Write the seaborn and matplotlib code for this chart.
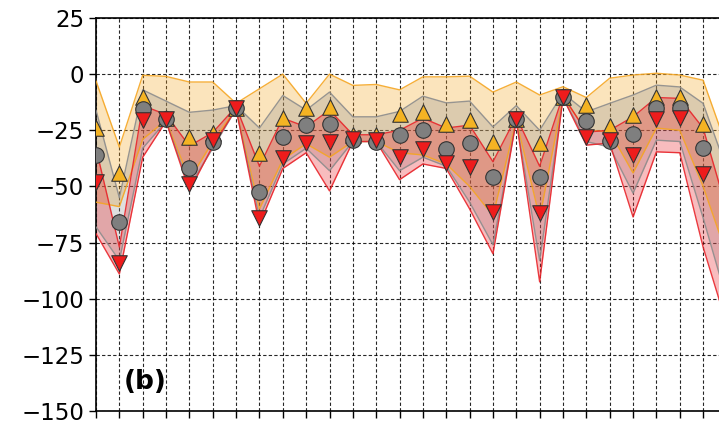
import numpy as np
import pandas as pd
import matplotlib
matplotlib.use("Agg")
import matplotlib.pyplot as plt
import seaborn as sns

# ---- data ----
idx = list(range(28))
up_vals = [-24, -44, -10, -19.6, -28, -26, -15, -35, -19.6, -15, -14.6, -27, -27, -17.8,
           -17, -22, -20.5, -30, -20, -30.6, -10, -13.8, -23, -18.2, -10, -10, -22, -50]
mid_vals = [-36, -66, -15.6, -20, -42, -30, -15, -52.5, -28, -22.7, -22.4, -29.4, -30, -27,
            -25, -33.4, -30.6, -45.7, -20, -45.7, -10, -21, -29.8, -26.8, -15, -15, -33, -70]
down_vals = [-48, -84, -20.5, -20, -49, -29.5, -15, -64, -37.4, -30.7, -30, -29, -29.5, -36.8,
             -33.5, -39.6, -41.3, -61.5, -20, -62, -10, -28, -29.4, -36, -20, -19.6, -44.5, -90]

orange_hi = [-3, -32.5, -0.5, -1, -3.5, -3.5, -13, -6.5, 0, -13, 0, -5, -4.6, -7,
             -1.2, -1.2, -0.9, -8, -3.5, -9.3, -5.6, -10.4, -1.8, -0.4, 0.4, -0.4, -2.7, -32]
orange_lo = [-57, -59, -29, -20.5, -47, -30, -15.5, -60, -38, -31, -37, -30, -30, -35,
             -36, -40, -50, -63, -20.5, -64, -10.5, -25, -25.6, -44, -24, -25, -50, -80]
gray_hi = [-16, -55, -7, -12, -17, -16, -14, -24, -9.5, -16, -8, -19, -19, -16.6,
           -9.8, -12.8, -12, -23.5, -14, -25, -8.5, -16.8, -13, -9.3, -4.9, -5.7, -13, -42]
gray_lo = [-68, -83, -33, -21, -50, -33, -15.5, -64, -40, -33, -43, -30, -30, -43,
           -37, -41, -57, -76, -20.5, -83, -10.5, -30, -32.5, -53, -29.4, -30, -64, -100]
red_hi = [-33, -77, -14, -18, -32, -26, -14.5, -41, -19.6, -23.5, -16, -27, -27, -25,
          -19.6, -24, -22.7, -39, -19, -41, -9.5, -25.8, -25, -19, -10.4, -10.8, -24, -60]
red_lo = [-71, -89, -37, -21, -52, -32, -15.5, -67, -42, -35, -52, -30, -30, -47,
          -40, -42, -60, -80, -20.5, -92.5, -10.5, -31.6, -30.7, -63.6, -34.6, -35, -77, -111]

y_ticks = [25, 0, -25, -50, -75, -100, -125, -150]
panel_label = "(b)"

# ---- styling ----
sns.set_style("ticks")
plt.rcParams['font.family'] = ['DejaVu Sans']

ORANGE = "#f5a623"
ORANGE_M = "#f4b323"
GRAY = "#8c8c8c"
GRAY_M = "#7f7f7f"
RED = "#e8242a"
RED_M = "#ee1c1c"

fig = plt.figure(figsize=(7.19, 4.26), dpi=100)
# axes continues beyond the right edge (cropped panel)
unit_px = 23.35
left_px, top_px, bottom_px = 96, 18, 411
xmax = 30
ax = fig.add_axes([left_px / 719, 1 - bottom_px / 426,
                   xmax * unit_px / 719, (bottom_px - top_px) / 426])

df = pd.DataFrame({"x": idx, "up": up_vals, "mid": mid_vals, "down": down_vals,
                   "oh": orange_hi, "ol": orange_lo, "gh": gray_hi, "gl": gray_lo,
                   "rh": red_hi, "rl": red_lo})

bands = [("oh", "ol", ORANGE, 0.30),
         ("gh", "gl", GRAY, 0.28),
         ("rh", "rl", RED, 0.30)]
for hi, lo, col, a in bands:
    ax.fill_between(df["x"], df[lo], df[hi], color=col, alpha=a, lw=0, zorder=2)
    sns.lineplot(data=df, x="x", y=hi, color=col, lw=1.0, ax=ax, zorder=3, alpha=0.9)
    sns.lineplot(data=df, x="x", y=lo, color=col, lw=1.0, ax=ax, zorder=3, alpha=0.9)

vis = df[df["x"] <= 26]
sns.scatterplot(data=vis, x="x", y="up", marker="^", s=125, color=ORANGE_M,
                edgecolor="#333333", linewidth=0.8, ax=ax, zorder=5)
sns.scatterplot(data=vis, x="x", y="mid", marker="o", s=125, color=GRAY_M,
                edgecolor="#333333", linewidth=0.8, ax=ax, zorder=5)
sns.scatterplot(data=vis, x="x", y="down", marker="v", s=125, color=RED_M,
                edgecolor="#333333", linewidth=0.8, ax=ax, zorder=5)

ax.set_xlim(0, xmax)
ax.set_ylim(-150, 25)
ax.set_xticks(range(0, xmax + 1))
ax.set_xticklabels([])
ax.set_yticks(y_ticks)
ax.set_yticklabels([f"{v}".replace("-", "\u2212") for v in y_ticks], fontsize=16.5,
                   color="black")
ax.set_xlabel("")
ax.set_ylabel("")
ax.grid(True, color="black", linestyle=(0, (3, 2)), linewidth=0.8, alpha=0.85)
ax.set_axisbelow(True)
ax.tick_params(axis="both", direction="out", length=5, width=1, color="black",
               labelcolor="black")
for s in ["left", "bottom", "top"]:
    ax.spines[s].set_color("black")
    ax.spines[s].set_linewidth(1.2)
ax.spines["right"].set_visible(False)

ax.text(1.2, -137, panel_label, fontsize=19, fontweight="bold", va="center", ha="left",
        color="black", zorder=6)

fig.savefig("out.png", dpi=100)
